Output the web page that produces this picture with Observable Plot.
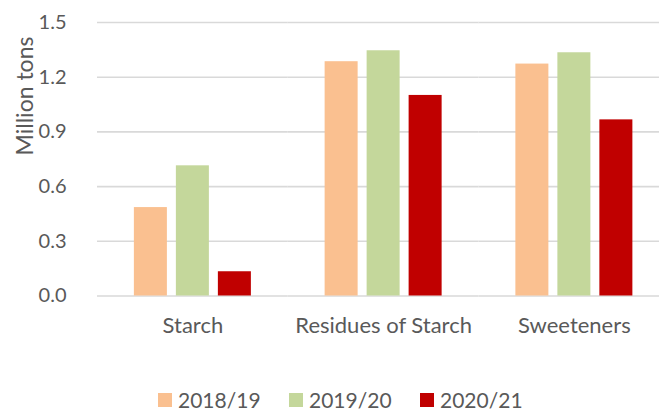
<!DOCTYPE html>
<html>
<head>
<meta charset="utf-8">
<script src="https://cdn.jsdelivr.net/npm/d3@7"></script>
<script src="https://cdn.jsdelivr.net/npm/@observablehq/plot@0.6"></script>
<style>
  html, body { margin: 0; padding: 0; background: #fff; overflow: hidden; }
  #chart { width: 659px; }
  #chart svg g[aria-label^="fx-axis"] { font-size: 22px; }
  .legend { font-family: Lato, sans-serif; font-size: 21px; color: #595959; padding-top: 18px; padding-left: 158px; line-height: 22px; white-space: nowrap; }
  .legend .item { display: inline-flex; align-items: center; width: 131px; }
  .legend .sw { width: 14px; height: 14px; margin-right: 6px; display: inline-block; }
</style>
</head>
<body>
<div id="chart"></div>
<script>
const categories = ["Starch", "Residues of Starch", "Sweeteners"];
const seasons = ["2018/19", "2019/20", "2020/21"];
const v201819 = [0.485, 1.285, 1.272];
const v201920 = [0.714, 1.345, 1.334];
const v202021 = [0.133, 1.10, 0.966];
const yTicks = [0, 0.3, 0.6, 0.9, 1.2, 1.5];
const colors = ["#FAC090", "#C4D79B", "#C00000"];
const yLabel = "Million tons";

const seriesValues = [v201819, v201920, v202021];
const data = categories.flatMap((c, i) =>
  seasons.map((s, j) => ({category: c, season: s, value: seriesValues[j][i]}))
);

const plot = Plot.plot({
  width: 659,
  height: 370,
  marginLeft: 97,
  marginRight: 0,
  marginTop: 22,
  marginBottom: 74.5,
  style: {fontFamily: "Lato, sans-serif", fontSize: "20px", color: "#595959", background: "#fff"},
  fx: {domain: categories, range: [97, 669.25], paddingInner: 0, paddingOuter: 0, label: null, axis: "bottom", tickSize: 0, tickPadding: 21, round: false},
  x: {domain: seasons, paddingInner: 0.214, paddingOuter: 0.878, axis: null, round: false},
  y: {domain: [0, 1.5], ticks: yTicks, tickFormat: d3.format(".1f"), label: null, tickSize: 0, tickPadding: 31},
  color: {domain: seasons, range: colors},
  marks: [
    Plot.ruleY(yTicks, {stroke: "#D9D9D9", strokeWidth: 1.6}),
    Plot.barY(data, {fx: "category", x: "season", y: "value", fill: "season"})
  ]
});

d3.select(plot).append("text")
  .attr("transform", "translate(33,96) rotate(-90)")
  .attr("text-anchor", "middle")
  .attr("fill", "#595959")
  .style("font-size", "23px")
  .text(yLabel);

document.getElementById("chart").appendChild(plot);

const legend = d3.select("#chart").append("div").attr("class", "legend");
seasons.forEach((s, i) => {
  const it = legend.append("span").attr("class", "item");
  it.append("span").attr("class", "sw").style("background", colors[i]);
  it.append("span").text(s);
});
</script>
</body>
</html>
